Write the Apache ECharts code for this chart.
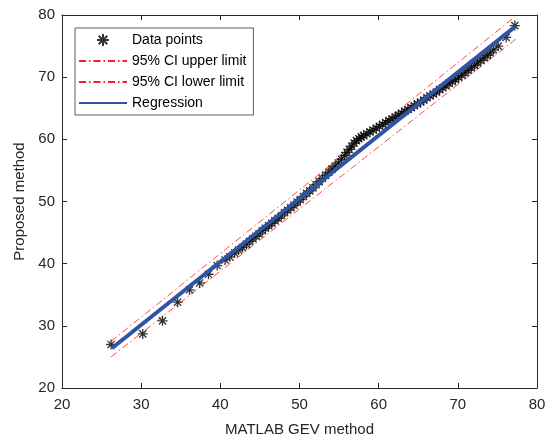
<!DOCTYPE html>
<html>
<head>
<meta charset="utf-8">
<title>GEV comparison</title>
<script src="https://cdn.jsdelivr.net/npm/echarts@6/dist/echarts.min.js"></script>
<style>
    html, body { margin: 0; padding: 0; background: #fff; }
    #chart { width: 554px; height: 442px; }
</style>
</head>
<body>
<div id="chart"></div>
<script>
// data points
const pointsX = [26.2, 30.2, 32.7, 34.6, 36.1, 37.4, 38.5, 39.6,
    40.6, 41.2, 41.8, 42.3, 42.8, 43.3, 43.7, 44.1, 44.5, 44.9, 45.3, 45.7, 46.1, 46.5, 46.9, 47.3, 47.7,
    48.1, 48.5, 48.9, 49.3, 49.7, 50.1, 50.5, 50.9, 51.3, 51.7, 52.1, 52.5, 52.9, 53.3, 53.7, 54.1, 54.5,
    54.9, 55.3, 55.7, 56.0, 56.3, 56.6, 56.9, 57.2, 57.5, 57.8, 58.1, 58.5, 58.9, 59.3, 59.7, 60.1, 60.5,
    60.9, 61.3, 61.7, 62.1, 62.5, 62.9, 63.3, 63.7, 64.1, 64.5, 64.9, 65.3, 65.7, 66.1, 66.5, 66.9, 67.3,
    67.7, 68.1, 68.5, 68.9, 69.3, 69.7, 70.1, 70.5, 70.9, 71.3, 71.7, 72.1, 72.5, 72.9, 73.3, 73.7, 74.1,
    74.5, 75.1, 76.1, 77.2];
const pointsY = [27.0, 28.7, 30.8, 33.8, 35.8, 36.9, 38.3, 39.7,
    40.6, 41.1, 41.7, 42.2, 42.6, 43.1, 43.6, 44.0, 44.4, 44.8, 45.3, 45.7, 46.1, 46.5, 46.9, 47.3, 47.7,
    48.2, 48.6, 49.0, 49.4, 49.9, 50.3, 50.8, 51.3, 51.7, 52.2, 52.7, 53.2, 53.7, 54.2, 54.7, 55.2, 55.7,
    56.2, 56.8, 57.4, 57.9, 58.4, 58.9, 59.4, 59.8, 60.1, 60.4, 60.6, 60.9, 61.2, 61.5, 61.8, 62.1, 62.4,
    62.7, 63.0, 63.3, 63.6, 63.9, 64.2, 64.5, 64.8, 65.1, 65.4, 65.7, 66.0, 66.3, 66.7, 67.0, 67.3, 67.6,
    68.0, 68.3, 68.6, 69.0, 69.3, 69.6, 70.0, 70.3, 70.7, 71.1, 71.5, 71.9, 72.3, 72.7, 73.1, 73.5, 73.9,
    74.4, 75.0, 76.4, 78.3];

// straight lines: end points only
const regX = [26.3, 77.2];
const regY = [26.4, 78.1];
const upperX = [26.2, 77.2];
const upperY = [27.5, 79.7];
const lowerX = [26.2, 77.4];
const lowerY = [25.0, 76.2];

const axisMin = 20;
const axisMax = 80;
const axisStep = 10;

function pairs(xs, ys) {
    return xs.map((x, i) => [x, ys[i]]);
}

const textColor = '#262626';
const fontName = 'Liberation Sans, Arial, sans-serif';
const starPath = 'path://M0,-5L0,5M-5,0L5,0M-3.6,-3.6L3.6,3.6M-3.6,3.6L3.6,-3.6';
const ciColor = '#ff1a1a';

let chart = echarts.init(document.getElementById('chart'));

const baseAxis = {
    min: axisMin,
    max: axisMax,
    interval: axisStep,
    axisLine: { lineStyle: { color: textColor, width: 1 } },
    axisTick: { inside: true, length: 5, lineStyle: { color: textColor } },
    splitLine: { show: false }
};

chart.setOption({
    animation: false,
    textStyle: { fontFamily: fontName },
    grid: { left: 62, right: 17, top: 15, bottom: 50 },
    legend: {
        orient: 'vertical',
        left: 75,
        top: 28,
        padding: [5, 7, 5, 3],
        itemWidth: 48,
        itemHeight: 12,
        itemGap: 7,
        borderColor: '#333',
        borderWidth: 0.8,
        backgroundColor: '#fff',
        textStyle: { fontSize: 14, color: '#000', fontFamily: fontName, padding: [0, 0, 0, 0] },
        data: [
            { name: 'Data points' },
            { name: '95% CI upper limit', itemStyle: { opacity: 0 } },
            { name: '95% CI lower limit', itemStyle: { opacity: 0 } },
            { name: 'Regression', itemStyle: { opacity: 0 } }
        ]
    },
    xAxis: [
        Object.assign({}, baseAxis, {
            type: 'value',
            position: 'bottom',
            name: 'MATLAB GEV method',
            nameLocation: 'middle',
            nameGap: 34,
            nameTextStyle: { fontSize: 15, color: textColor },
            axisLabel: { fontSize: 15, color: textColor, margin: 9 }
        }),
        Object.assign({}, baseAxis, {
            type: 'value',
            position: 'top',
            axisLabel: { show: false }
        })
    ],
    yAxis: [
        Object.assign({}, baseAxis, {
            type: 'value',
            position: 'left',
            name: 'Proposed method',
            nameLocation: 'middle',
            nameGap: 32,
            nameTextStyle: { fontSize: 15, color: textColor },
            axisLabel: { fontSize: 15, color: textColor, margin: 7 }
        }),
        Object.assign({}, baseAxis, {
            type: 'value',
            position: 'right',
            axisLabel: { show: false }
        })
    ],
    series: [
        {
            name: 'Data points',
            type: 'scatter',
            symbol: starPath,
            symbolSize: 10,
            itemStyle: { color: '#000', borderColor: '#000', borderWidth: 1.3 },
            data: pairs(pointsX, pointsY),
            z: 3
        },
        {
            name: '95% CI upper limit',
            type: 'line',
            symbol: 'none',
            itemStyle: { color: ciColor },
            lineStyle: { color: ciColor, width: 0.8, type: [7, 3, 1.5, 3] },
            data: pairs(upperX, upperY),
            z: 2
        },
        {
            name: '95% CI lower limit',
            type: 'line',
            symbol: 'none',
            itemStyle: { color: ciColor },
            lineStyle: { color: ciColor, width: 0.8, type: [7, 3, 1.5, 3] },
            data: pairs(lowerX, lowerY),
            z: 2
        },
        {
            name: 'Regression',
            type: 'line',
            symbol: 'none',
            itemStyle: { color: '#2f53a5' },
            lineStyle: { color: '#2f53a5', width: 4 },
            data: pairs(regX, regY),
            z: 4
        }
    ]
});
</script>
</body>
</html>
